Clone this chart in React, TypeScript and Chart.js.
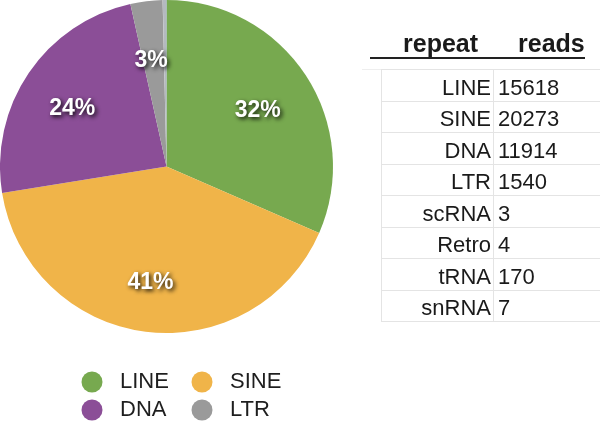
import React, { useEffect, useRef } from "react";
import { Chart, registerables } from "chart.js";

Chart.register(...registerables);

const categories = ["LINE", "SINE", "DNA", "LTR", "scRNA", "Retro", "tRNA", "snRNA"];
const reads = [15618, 20273, 11914, 1540, 3, 4, 170, 7];
const colors = ["#77a94f", "#f0b449", "#8b4e97", "#9a9a9a", "#d2d2d2", "#c4c4c4", "#b4b9bf", "#5a84c4"];
const legendItems = ["LINE", "SINE", "DNA", "LTR"];
const headers = ["repeat", "reads"];

const FONT = '"Liberation Sans", Arial, Helvetica, sans-serif';

const pctLabels = {
  id: "pctLabels",
  afterDatasetsDraw(chart: any) {
    const ctx = chart.ctx;
    const ds = chart.data.datasets[0];
    const vals: number[] = ds.data;
    const total = vals.reduce((a, b) => a + b, 0);
    const meta = chart.getDatasetMeta(0);
    ctx.save();
    ctx.font = `bold 23px ${FONT}`;
    ctx.textAlign = "center";
    ctx.textBaseline = "middle";
    meta.data.forEach((arc: any, i: number) => {
      const pct = (vals[i] / total) * 100;
      if (pct < 2.5) return;
      const p = arc.getProps(["x", "y", "startAngle", "endAngle", "outerRadius"], true);
      const mid = (p.startAngle + p.endAngle) / 2;
      const r = p.outerRadius * 0.67;
      const x = p.x + Math.cos(mid) * r - 2;
      const y = p.y + Math.sin(mid) * r + 5;
      ctx.shadowColor = "rgba(0,0,0,0.9)";
      ctx.shadowBlur = 4;
      ctx.shadowOffsetX = 2;
      ctx.shadowOffsetY = 2;
      ctx.fillStyle = "#ffffff";
      ctx.fillText(Math.round(pct) + "%", x, y);
    });
    ctx.restore();
  },
};

const dotLegend = {
  id: "dotLegend",
  afterDraw(chart: any) {
    const ctx = chart.ctx;
    const ds = chart.data.datasets[0];
    const labels: string[] = chart.data.labels;
    ctx.save();
    ctx.font = `22px ${FONT}`;
    ctx.textAlign = "left";
    ctx.textBaseline = "alphabetic";
    legendItems.forEach((name, k) => {
      const idx = labels.indexOf(name);
      const col = k % 2;
      const row = Math.floor(k / 2);
      const cx = 92 + col * 110;
      const cy = 382 + row * 28;
      ctx.fillStyle = ds.backgroundColor[idx];
      ctx.beginPath();
      ctx.arc(cx, cy, 10.5, 0, Math.PI * 2);
      ctx.fill();
      ctx.fillStyle = "#1e1e1e";
      ctx.fillText(name, cx + 28, cy + 6);
    });
    ctx.restore();
  },
};

export default function App() {
  const ref = useRef<HTMLCanvasElement>(null);
  useEffect(() => {
    if (!ref.current) return;
    const chart = new Chart(ref.current, {
      type: "pie",
      data: {
        labels: categories,
        datasets: [
          {
            data: reads,
            backgroundColor: colors,
            borderWidth: 0,
          },
        ],
      },
      options: {
        responsive: false,
        animation: false,
        layout: { padding: { left: 0, top: 0, right: 267, bottom: 88 } },
        plugins: {
          legend: { display: false },
          tooltip: { enabled: false },
        },
      },
      plugins: [pctLabels, dotLegend],
    });
    return () => chart.destroy();
  }, []);

  const rowTop = 69;
  const rowH = 31.5;
  const gridColor = "#e4e4e4";
  const textStyle: React.CSSProperties = {
    position: "absolute",
    fontFamily: FONT,
    fontSize: 22,
    lineHeight: `${rowH}px`,
    color: "#1a1a1a",
    whiteSpace: "nowrap",
  };

  return (
    <div style={{ position: "absolute", left: 0, top: 0, width: 600, height: 421, background: "#fff", overflow: "hidden" }}>
      <canvas ref={ref} width={600} height={421} style={{ display: "block", position: "absolute", left: 0, top: 0 }} />
      <span style={{ position: "absolute", left: 403, top: 31, fontFamily: FONT, fontWeight: "bold", fontSize: 25, lineHeight: "25px", color: "#1a1a1a" }}>{headers[0]}</span>
      <span style={{ position: "absolute", left: 518, top: 31, fontFamily: FONT, fontWeight: "bold", fontSize: 25, lineHeight: "25px", color: "#1a1a1a" }}>{headers[1]}</span>
      <div style={{ position: "absolute", left: 370, top: 57, width: 215, height: 2, background: "#222" }} />
      <div style={{ position: "absolute", left: 362, top: rowTop, width: 19, height: 1, background: "#eeeeee" }} />
      {categories.map((_, i) => (
        <div key={"h" + i} style={{ position: "absolute", left: 381, top: rowTop + i * rowH, width: 219, height: 1, background: gridColor }} />
      ))}
      <div style={{ position: "absolute", left: 381, top: rowTop + categories.length * rowH, width: 219, height: 1, background: gridColor }} />
      <div style={{ position: "absolute", left: 381, top: rowTop, width: 1, height: categories.length * rowH, background: gridColor }} />
      <div style={{ position: "absolute", left: 493, top: rowTop, width: 1, height: categories.length * rowH, background: gridColor }} />
      {categories.map((c, i) => (
        <React.Fragment key={c}>
          <span style={{ ...textStyle, right: 600 - 491, top: rowTop + i * rowH + 2.5 }}>{c}</span>
          <span style={{ ...textStyle, left: 498, top: rowTop + i * rowH + 2.5 }}>{reads[i]}</span>
        </React.Fragment>
      ))}
    </div>
  );
}
